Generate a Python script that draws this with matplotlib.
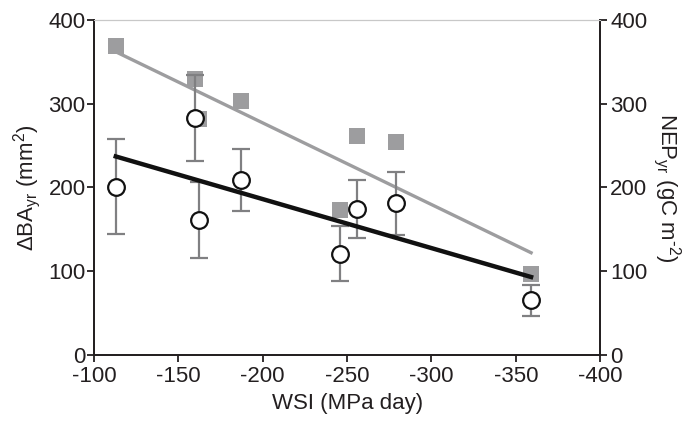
import numpy as np
import matplotlib
matplotlib.use("Agg")
import matplotlib.pyplot as plt

plt.rcParams['font.family'] = ['Liberation Sans', 'DejaVu Sans']
plt.rcParams['mathtext.default'] = 'regular'
plt.rcParams['axes.unicode_minus'] = False

# data
wsi = [-113, -160, -162, -187, -246, -256, -279, -359]
nep = [369, 329, 282, 303, 173, 261, 254, 97]
dba = [201, 283, 161, 209, 121, 174, 181, 65]
dba_err = [57, 51, 45, 37, 33, 35, 38, 18]

# regression line end points
fit_x = [-113, -359]
fit_dba = [237, 93]
fit_nep = [362, 122]

DARK = '#231f20'
GRAY = '#9d9d9f'
ERR = '#808082'

fig = plt.figure(figsize=(6.9, 4.25), dpi=100)
ax = fig.add_axes([0.136, 0.165, 0.734, 0.788])
ax2 = ax.twinx()

# NEP on the right axis
ax2.plot(wsi, nep, 's', color=GRAY, markersize=12, markeredgewidth=0, zorder=2)
ax2.plot(fit_x, fit_nep, '-', color=GRAY, linewidth=2.4, zorder=3)

# basal area increment on the left axis (drawn on top)
ax.set_zorder(ax2.get_zorder() + 1)
ax.patch.set_visible(False)
ax.errorbar(wsi, dba, yerr=dba_err, fmt='none', ecolor=ERR, elinewidth=1.6,
            capsize=6.5, capthick=1.6, zorder=3)
ax.plot(fit_x, fit_dba, '-', color='#111111', linewidth=3.2, zorder=4)
ax.plot(wsi, dba, 'o', markerfacecolor='white', markeredgecolor='#111111',
        markeredgewidth=1.6, markersize=12, zorder=5)

for a in (ax, ax2):
    a.set_xlim(-100, -400)
    a.set_ylim(0, 400)
    a.set_yticks([0, 100, 200, 300, 400])
    for s in ('left', 'right', 'bottom'):
        a.spines[s].set_color(DARK)
        a.spines[s].set_linewidth(1.3)
    a.spines['top'].set_color('#c8c8c8')
    a.spines['top'].set_linewidth(0.8)
    a.tick_params(direction='out', length=5, width=1.3, color=DARK,
                  labelsize=16, labelcolor=DARK)

ax.set_xticks([-100, -150, -200, -250, -300, -350, -400])
ax.tick_params(axis='y', pad=1)
ax.tick_params(axis='x', pad=3)
ax2.tick_params(axis='y', pad=2)

ax.set_xlabel('WSI (MPa day)', fontsize=16, color=DARK, labelpad=4)
ax.set_ylabel('ΔBA$_{yr}$ (mm$^{2}$)', fontsize=16, color=DARK, labelpad=4)
ax2.set_ylabel(r'NEP$_{yr}$ (gC m$^{\text{-}2}$)', fontsize=16, color=DARK,
               rotation=270, labelpad=26)

fig.savefig('out.png', dpi=100)
